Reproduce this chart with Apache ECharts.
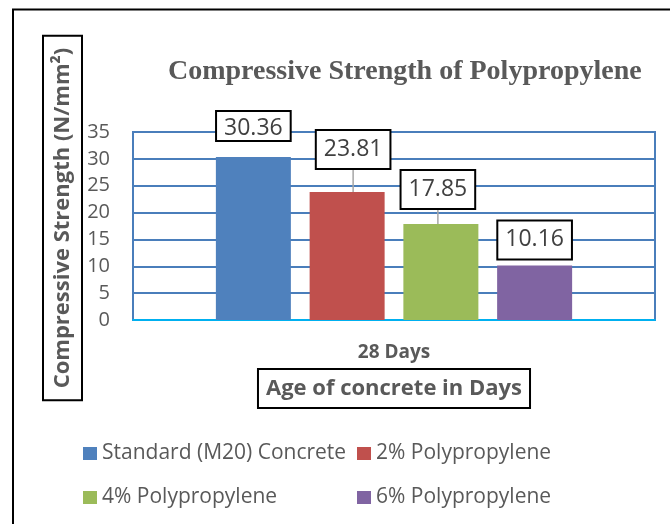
<!DOCTYPE html>
<html>
<head>
<meta charset="utf-8">
<script src="https://cdn.jsdelivr.net/npm/echarts@6/dist/echarts.min.js"></script>
<style>
  html, body { margin: 0; padding: 0; background: #fff; }
  #chart { width: 670px; height: 524px; }
</style>
</head>
<body>
<div id="chart"></div>
<script>
// data
const categories = ['28 Days']
const seriesNames = ['Standard (M20) Concrete', '2% Polypropylene', '4% Polypropylene', '6% Polypropylene']
const strengthValues = [30.36, 23.81, 17.85, 10.16]
const yTicks = [0, 5, 10, 15, 20, 25, 30, 35]

const colors = ['#4F81BD', '#C0504D', '#9BBB59', '#8064A2']
const font = 'Open Sans'
// label box shifts (dx, dy) so the boxes sit where the original ones were
const labelShift = [[0, -12], [6, -19], [-3, -11], [0, -2]]
// legend spots: two columns, two rows
const legendSpots = [[83, 443], [357, 443], [83, 487], [357, 487]]

const chart = echarts.init(document.getElementById('chart'))

const option = {
  animation: false,
  title: {
    text: 'Compressive Strength of Polypropylene',
    left: 163,
    top: 53,
    textStyle: {
      fontFamily: 'Liberation Serif',
      fontWeight: 'bold',
      fontSize: 28,
      color: '#595959',
    },
  },
  grid: {
    left: 133,
    right: 15,
    top: 132,
    bottom: 204,
    show: true,
    borderColor: '#4A7EBB',
    borderWidth: 2,
  },
  legend: legendSpots.map((p, i) => ({
    data: [seriesNames[i]],
    left: p[0],
    top: p[1],
    padding: 0,
    itemWidth: 14,
    itemHeight: 13,
    icon: 'rect',
    textStyle: { fontFamily: font, fontSize: 21, color: '#595959' },
  })),
  xAxis: {
    type: 'category',
    data: categories,
    axisTick: { show: false },
    axisLine: { lineStyle: { color: '#00B0F0', width: 2 } },
    axisLabel: {
      margin: 23,
      fontFamily: font,
      fontSize: 19,
      fontWeight: 'bold',
      color: '#595959',
    },
    name: 'Age of concrete in Days',
    nameLocation: 'middle',
    nameGap: 49,
    nameTextStyle: {
      fontFamily: font,
      fontSize: 22,
      fontWeight: 'bold',
      color: '#595959',
      borderColor: '#000',
      borderWidth: 2,
      padding: [8, 8, 7, 8],
      lineHeight: 24,
    },
  },
  yAxis: {
    type: 'value',
    min: yTicks[0],
    max: yTicks[yTicks.length - 1],
    interval: yTicks[1] - yTicks[0],
    axisLine: { show: false },
    axisTick: { show: false },
    axisLabel: { margin: 23, fontFamily: font, fontSize: 20, color: '#595959' },
    splitLine: { lineStyle: { color: '#4A7EBB', width: 2 } },
  },
  series: seriesNames.map((name, i) => ({
    name: name,
    type: 'bar',
    data: [strengthValues[i]],
    barWidth: 75,
    barGap: '25%',
    itemStyle: { color: colors[i] },
    label: {
      show: true,
      position: 'top',
      distance: 5,
      fontFamily: font,
      fontSize: 23,
      lineHeight: 23,
      color: '#404040',
      backgroundColor: '#fff',
      borderColor: '#000',
      borderWidth: 2,
      padding: i === 0 ? [5, 7, 0, 7] : [7, 7, 7, 7],
    },
    labelLayout: { dx: labelShift[i][0], dy: labelShift[i][1] },
    labelLine: {
      show: i === 1 || i === 2,
      lineStyle: { color: '#A6A6A6', width: 1.5 },
    },
  })),
  graphic: [
    {
      // outer frame, runs off the right and bottom edge like the original
      type: 'rect',
      shape: { x: 13, y: 9.5, width: 700, height: 560 },
      style: { fill: 'none', stroke: '#000', lineWidth: 2 },
      silent: true,
    },
    {
      type: 'text',
      x: 62.5,
      y: 218,
      rotation: Math.PI / 2,
      style: {
        text: 'Compressive Strength (N/mm²)',
        x: 0,
        y: 0,
        align: 'center',
        verticalAlign: 'middle',
        font: 'bold 22px "Open Sans"',
        fill: '#595959',
        borderColor: '#000',
        borderWidth: 2,
        padding: [8, 12, 8, 12],
        lineHeight: 23,
      },
    },
  ],
}

chart.setOption(option)
</script>
</body>
</html>
